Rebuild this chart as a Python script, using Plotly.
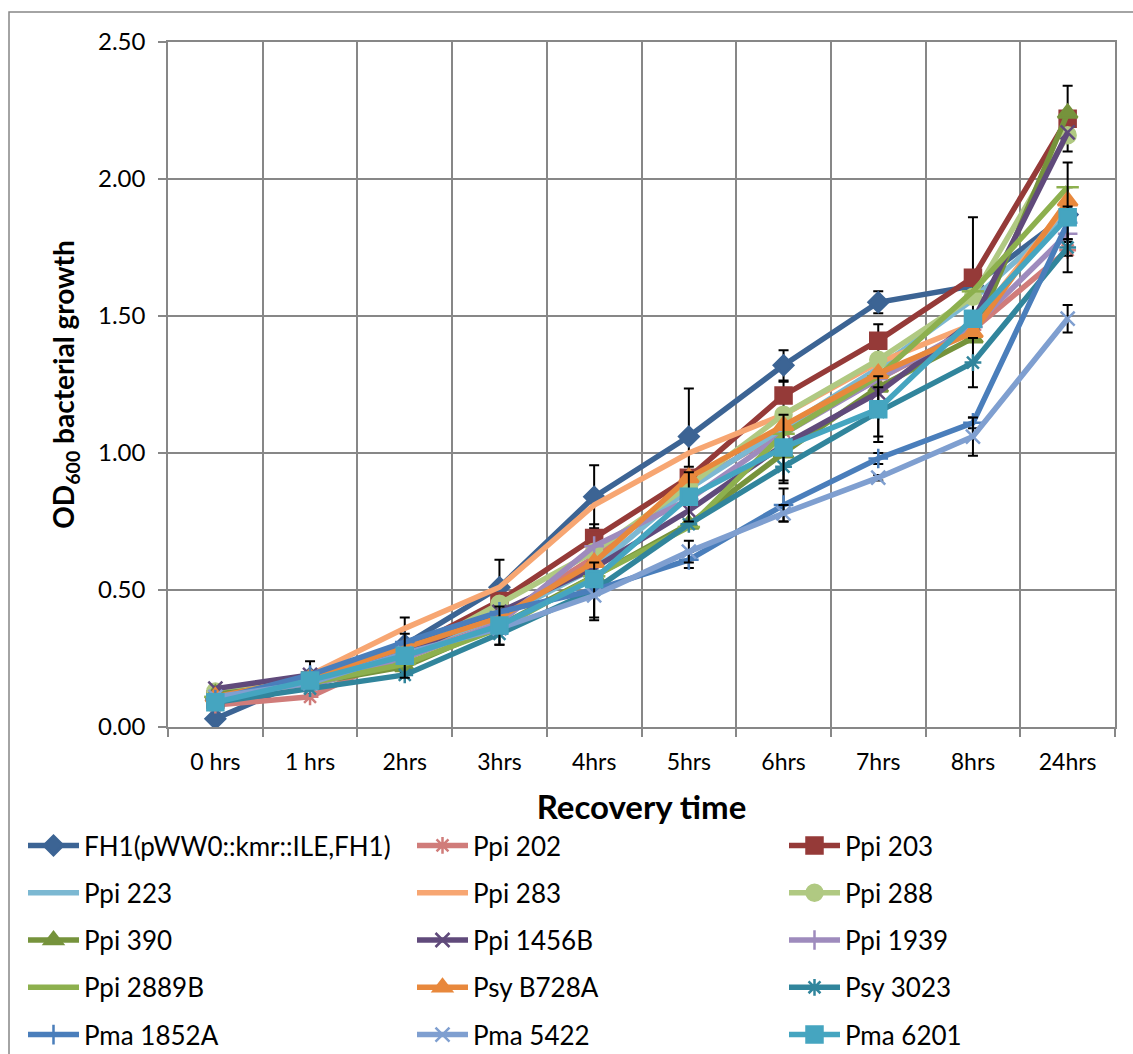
import plotly.graph_objects as go

# Recovery time points (category axis)
hours = ["0 hrs", "1 hrs", "2hrs", "3hrs", "4hrs", "5hrs", "6hrs", "7hrs", "8hrs", "24hrs"]

# Mean OD600 per strain
fh1 = [0.03, 0.18, 0.30, 0.51, 0.84, 1.06, 1.32, 1.55, 1.61, 1.87]
ppi202 = [0.08, 0.11, 0.27, 0.40, 0.62, 0.88, 1.08, 1.27, 1.45, 1.74]
ppi203 = [0.10, 0.17, 0.28, 0.46, 0.69, 0.91, 1.21, 1.41, 1.64, 2.22]
ppi223 = [0.11, 0.18, 0.28, 0.40, 0.58, 0.87, 1.09, 1.31, 1.56, 1.87]
ppi283 = [0.11, 0.19, 0.36, 0.51, 0.81, 1.00, 1.14, 1.33, 1.47, 1.91]
ppi288 = [0.13, 0.17, 0.26, 0.45, 0.64, 0.88, 1.14, 1.34, 1.57, 2.16]
ppi390 = [0.12, 0.16, 0.22, 0.37, 0.55, 0.74, 1.00, 1.24, 1.42, 2.24]
ppi1456b = [0.14, 0.19, 0.27, 0.42, 0.58, 0.79, 1.03, 1.22, 1.48, 2.17]
ppi1939 = [0.10, 0.15, 0.25, 0.38, 0.66, 0.83, 1.07, 1.27, 1.46, 1.80]
ppi2889b = [0.11, 0.16, 0.23, 0.36, 0.55, 0.73, 1.07, 1.28, 1.59, 1.97]
psyb728a = [0.11, 0.18, 0.29, 0.40, 0.60, 0.91, 1.10, 1.29, 1.44, 1.92]
psy3023 = [0.09, 0.14, 0.19, 0.34, 0.50, 0.74, 0.95, 1.15, 1.33, 1.75]
pma1852a = [0.10, 0.19, 0.31, 0.42, 0.50, 0.61, 0.81, 0.98, 1.11, 1.84]
pma5422 = [0.11, 0.16, 0.27, 0.36, 0.48, 0.64, 0.78, 0.91, 1.06, 1.49]
pma6201 = [0.09, 0.17, 0.26, 0.37, 0.54, 0.84, 1.02, 1.16, 1.49, 1.86]

# Standard deviations (0 = no visible error bar)
fh1_err = [0.01, 0.06, 0.10, 0.10, 0.115, 0.175, 0.055, 0.04, 0.05, 0.10]
ppi203_err = [0.0, 0.0, 0.0, 0.0, 0.05, 0.04, 0.05, 0.06, 0.22, 0.12]
psy3023_err = [0.0, 0.0, 0.0, 0.04, 0.0, 0.0, 0.06, 0.09, 0.09, 0.03]
pma1852a_err = [0.0, 0.0, 0.0, 0.0, 0.10, 0.03, 0.06, 0.02, 0.02, 0.06]
pma5422_err = [0.0, 0.0, 0.0, 0.0, 0.09, 0.04, 0.03, 0.01, 0.07, 0.05]
pma6201_err = [0.0, 0.0, 0.08, 0.07, 0.0, 0.09, 0.12, 0.12, 0.0, 0.20]

series = [
    ("FH1(pWW0::kmr::ILE,FH1)", fh1, fh1_err, "#3C6494", "diamond", 15),
    ("Ppi 202", ppi202, None, "#D07C7A", "asterisk-open", 14),
    ("Ppi 203", ppi203, ppi203_err, "#953A38", "square", 16),
    ("Ppi 223", ppi223, None, "#7CB8D2", None, 0),
    ("Ppi 283", ppi283, None, "#F7A672", None, 0),
    ("Ppi 288", ppi288, None, "#B0C982", "circle", 16),
    ("Ppi 390", ppi390, None, "#76933C", "triangle-up", 17),
    ("Ppi 1456B", ppi1456b, None, "#604A7B", "x-thin-open", 14),
    ("Ppi 1939", ppi1939, None, "#9E8BBD", "cross-thin-open", 14),
    ("Ppi 2889B", ppi2889b, None, "#8DB04E", "line-ew-open", 16),
    ("Psy B728A", psyb728a, None, "#E8883C", "triangle-up", 17),
    ("Psy 3023", psy3023, psy3023_err, "#31859C", "asterisk-open", 14),
    ("Pma 1852A", pma1852a, pma1852a_err, "#4A7EBB", "cross-thin-open", 14),
    ("Pma 5422", pma5422, pma5422_err, "#7F9FD0", "x-thin-open", 14),
    ("Pma 6201", pma6201, pma6201_err, "#45A5C0", "square", 16),
]

FONT = "Lato, 'Open Sans', sans-serif"
legend_names = ["legend", "legend2", "legend3"]

fig = go.Figure()
for i, (name, vals, err, color, symbol, msize) in enumerate(series):
    marker = dict(color=color, size=msize, symbol=symbol or "circle",
                  line=dict(color=color, width=2.5))
    kw = {}
    if err is not None:
        kw["error_y"] = dict(type="data", array=err, visible=True,
                             color="black", thickness=2, width=5)
    fig.add_trace(go.Scatter(
        x=hours, y=vals, name=name,
        mode="lines+markers" if symbol else "lines",
        line=dict(color=color, width=5.5),
        marker=marker,
        legend=legend_names[i % 3],
        legendgroup=name,
        **kw,
    ))

plot_w, plot_h = 947, 685
left, top = 168, 42

def px_x(x):
    return (x - left) / plot_w

def px_y(y):
    return (top + plot_h - y) / plot_h

legend_common = dict(
    orientation="v", yanchor="top", xanchor="left",
    font=dict(family=FONT, size=26, color="black"),
    tracegroupgap=10.5, bgcolor="rgba(0,0,0,0)", itemwidth=51,
)

fig.update_layout(
    width=1133, height=1054,
    margin=dict(l=left, r=1133 - left - plot_w, t=top, b=1054 - top - plot_h,
                autoexpand=False),
    paper_bgcolor="white", plot_bgcolor="white",
    font=dict(family=FONT, size=20, color="black"),
    showlegend=True,
    legend=dict(x=px_x(23), y=px_y(822), **legend_common),
    legend2=dict(x=px_x(412), y=px_y(822), **legend_common),
    legend3=dict(x=px_x(784), y=px_y(822), **legend_common),
    xaxis=dict(
        type="category", range=[-0.5, 9.5], tickson="boundaries",
        showgrid=True, gridcolor="#878787", gridwidth=1.5,
        showline=True, linecolor="#878787", linewidth=1.5, mirror=True,
        ticks="outside", ticklen=8, tickcolor="#878787", tickwidth=1.5,
        tickfont=dict(family=FONT, size=23, color="black"),
        ticklabelstandoff=14, automargin=False,
        title=dict(text="<b>Recovery time</b>", font=dict(family=FONT, size=33, color="black"),
                   standoff=22),
        zeroline=False,
    ),
    yaxis=dict(
        range=[0, 2.5], dtick=0.5, tickformat=".2f",
        showgrid=True, gridcolor="#878787", gridwidth=1.5,
        showline=True, linecolor="#878787", linewidth=1.5, mirror=True,
        ticks="outside", ticklen=8, tickcolor="#878787", tickwidth=1.5,
        tickfont=dict(family=FONT, size=24, color="black"),
        ticklabelstandoff=8, automargin=False,
        title=dict(text="<b>OD<sub>600</sub> bacterial growth</b>",
                   font=dict(family=FONT, size=28, color="black"), standoff=15),
        zeroline=False,
    ),
    shapes=[dict(
        type="rect", xref="paper", yref="paper",
        x0=px_x(9), x1=px_x(1140), y0=px_y(1080), y1=px_y(12),
        line=dict(color="#878787", width=1.5), fillcolor="rgba(0,0,0,0)", layer="below",
    )],
)

fig.write_html("out.html")
